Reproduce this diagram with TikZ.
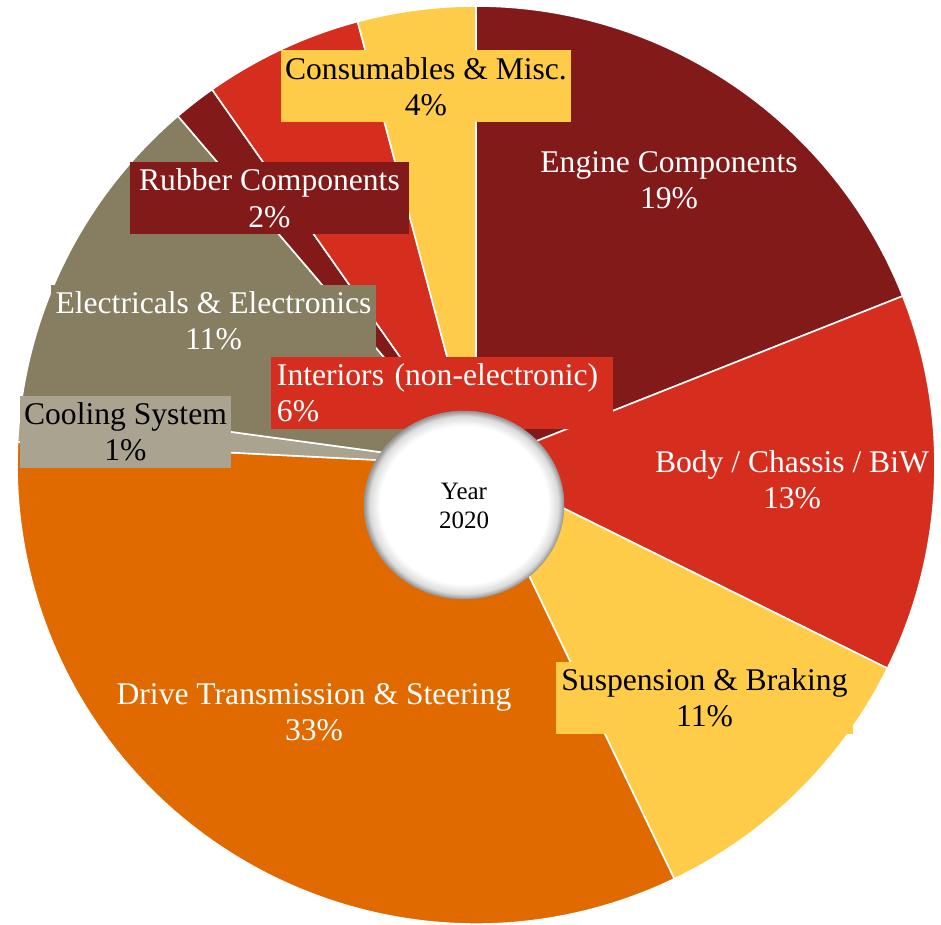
\documentclass[tikz,border=0pt]{standalone}
\usepackage{fontspec}
\setmainfont{Liberation Serif}

\definecolor{engC}{HTML}{831A1A}
\definecolor{bodyC}{HTML}{D62E1E}
\definecolor{suspC}{HTML}{FECC48}
\definecolor{driveC}{HTML}{E06A00}
\definecolor{coolC}{HTML}{A9A390}
\definecolor{elecC}{HTML}{877D60}
\pgfdeclareradialshading{hole}{\pgfpoint{0bp}{0bp}}{color(0bp)=(white); color(21bp)=(white); color(23.6bp)=(black!14); color(25bp)=(black!42); color(50bp)=(black!42)}
\newcommand{\twoline}[2]{\rule[-7pt]{0pt}{36pt}#1\\\rule[-7pt]{0pt}{36pt}#2}

\begin{document}
\begin{tikzpicture}[x=1pt, y=1pt,
		slice/.style = {draw=white, line width=1.6pt, line join=round},
		lbl/.style = {inner sep=0pt, align=center, font=\fontsize{31.6}{36}\selectfont}]
			\useasboundingbox (-476,-459) rectangle (465,465);

			\foreach \a/\b/\c in {90/21.6/engC, 21.6/-26.3/bodyC, -26.3/-64.4/suspC,
				-64.4/-182.9/driveC, -182.9/-187.7/coolC, -187.7/-229.5/elecC,
				-229.5/-234.9/engC, -234.9/-255.05/bodyC, -255.05/-270/suspC}
				\filldraw[slice, fill=\c] (0,0) -- (\a:459) arc[start angle=\a, end angle=\b, radius=459] -- cycle;

			\node (Eng) [lbl, fill=engC, text=white] at (193,285) {\twoline{Engine Components}{19\%}};
			\node (Body) [lbl, fill=bodyC, text=white] at (316,-14) {\twoline{Body / Chassis / BiW}{13\%}};
			\node (Susp) [lbl, fill=suspC, minimum width=297pt] at (228.5,-232.5) {\twoline{Suspension \& Braking}{11\%}};
			\node (Drive) [lbl, fill=driveC, text=white] at (-162,-246.5) {\twoline{Drive Transmission \& Steering}{33\%}};
			\node (Cool) [lbl, fill=coolC, minimum width=211pt] at (-350.5,33.5) {\twoline{Cooling System}{1\%}};
			\node (Elec) [lbl, fill=elecC, text=white, minimum width=325pt] at (-262.5,144.5) {\twoline{Electricals \& Electronics}{11\%}};
			\node (Rub) [lbl, fill=engC, text=white, minimum width=279pt] at (-206.5,267) {\twoline{Rubber Components}{2\%}};
			\node (Int) [lbl, fill=bodyC, text=white, inner xsep=6pt, text width=330pt, align=left] at (-34,72.5) {\twoline{Interiors (non-electronic)}{6\%}};
			\node (Cons) [lbl, fill=suspC, minimum width=290pt] at (-50,378.5) {\twoline{Consumables \& Misc.}{4\%}};

			\shadedraw[shading=hole, draw=black!40, line width=0.5pt] (-12,-40) ellipse [x radius=100, y radius=94];
			\node (Yr) [inner sep=0pt, align=center, font=\fontsize{25}{29}\selectfont] at (-12,-40) {\rule[-6pt]{0pt}{29pt}Year\\\rule[-6pt]{0pt}{29pt}2020};

		\end{tikzpicture}
\end{document}
